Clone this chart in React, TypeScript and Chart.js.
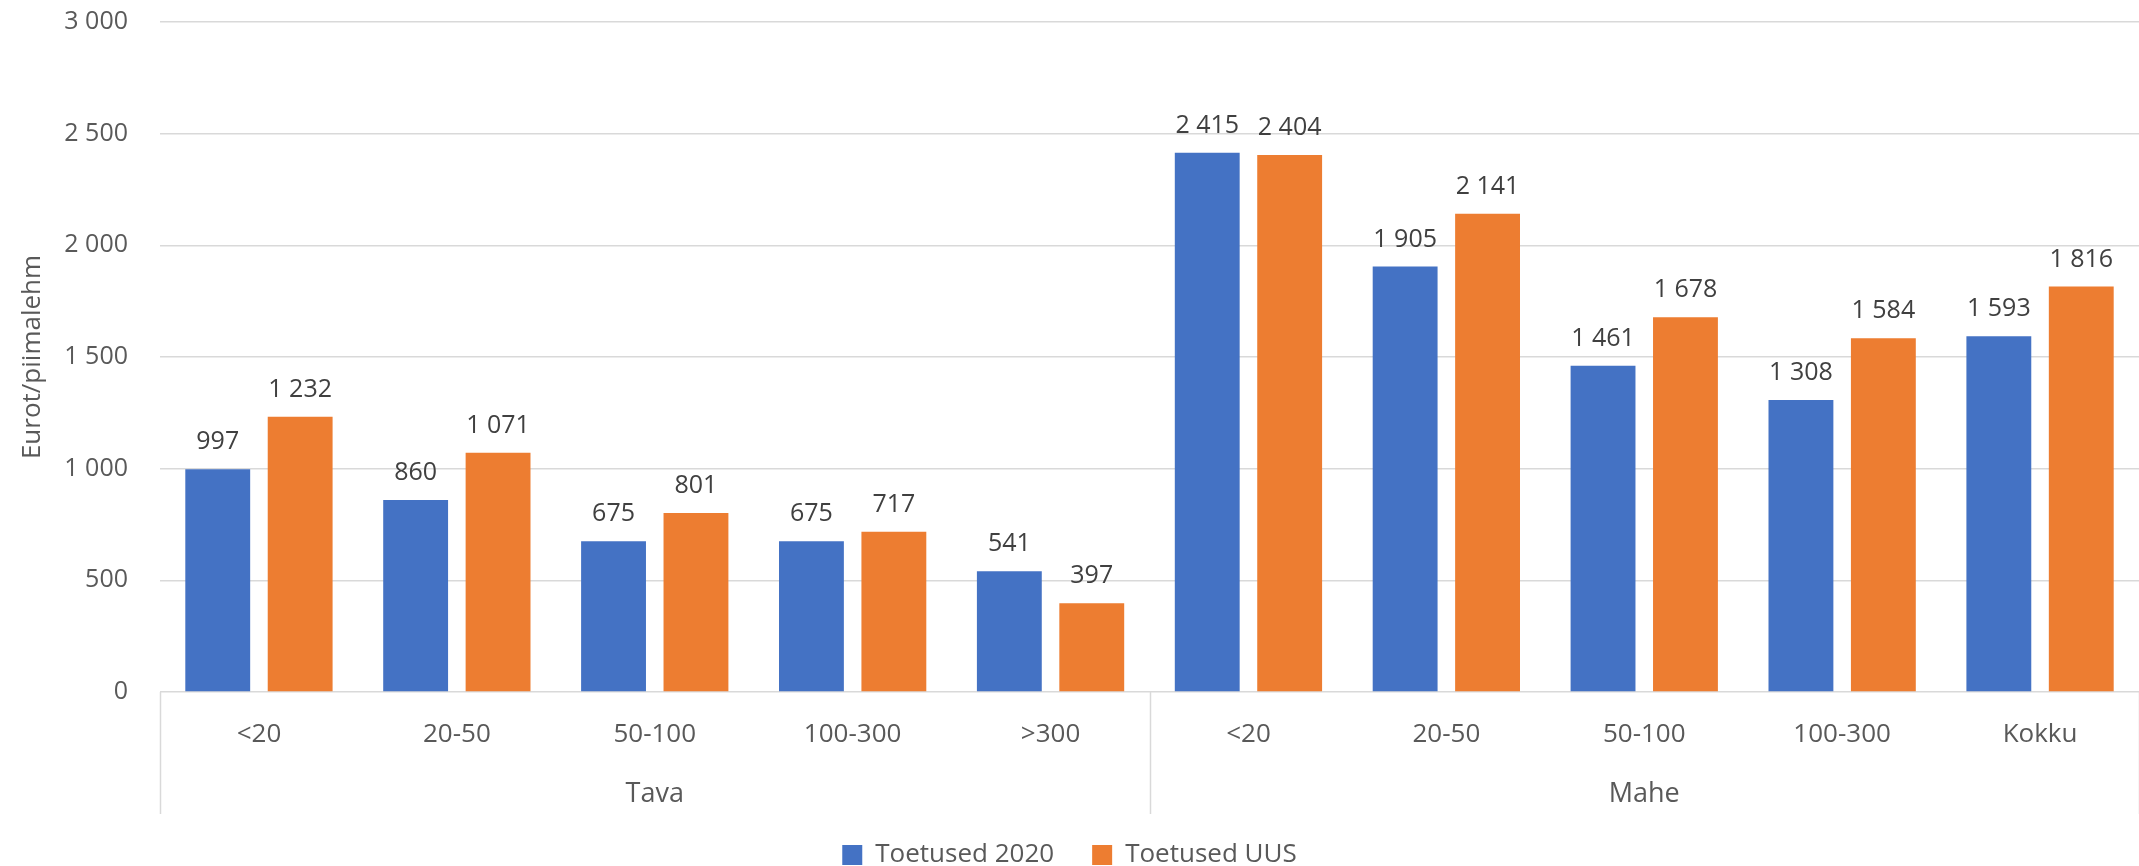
import React, { useEffect, useRef } from "react";
import { Chart, registerables } from "chart.js";

Chart.register(...registerables);

const categories = ["<20", "20-50", "50-100", "100-300", ">300", "<20", "20-50", "50-100", "100-300", "Kokku"];
const groups = [
  { label: "Tava", from: 0, to: 4 },
  { label: "Mahe", from: 5, to: 9 },
];
const toetused2020 = [997, 860, 675, 675, 541, 2415, 1905, 1461, 1308, 1593];
const toetusedUus = [1232, 1071, 801, 717, 397, 2404, 2141, 1678, 1584, 1816];
const seriesNames = ["Toetused 2020", "Toetused UUS"];
const yTitle = "Eurot/piimalehm";

const FONT = "'Open Sans', Lato, sans-serif";
const TEXT = "#595959";
const GRID = "#D9D9D9";

const fmt = (v: number) => String(v).replace(/\B(?=(\d{3})+(?!\d))/g, " ");

const labelsPlugin = {
  id: "customLabels",
  afterDatasetsDraw(chart: any) {
    const ctx = chart.ctx;
    ctx.save();
    ctx.font = `25px ${FONT}`;
    ctx.fillStyle = "#404040";
    ctx.textAlign = "center";
    ctx.textBaseline = "middle";
    chart.data.datasets.forEach((ds: any, di: number) => {
      const meta = chart.getDatasetMeta(di);
      meta.data.forEach((bar: any, i: number) => {
        ctx.fillText(fmt(ds.data[i]), bar.x, bar.y - 27);
      });
    });
    ctx.restore();
  },
  afterDraw(chart: any) {
    const ctx = chart.ctx;
    const xs = chart.scales.x;
    const area = chart.chartArea;
    const n = categories.length;
    const step = (area.right - area.left) / n;
    ctx.save();
    ctx.fillStyle = TEXT;
    ctx.textAlign = "center";
    ctx.textBaseline = "middle";
    ctx.font = `26px ${FONT}`;
    categories.forEach((c, i) => {
      ctx.fillText(c, xs.getPixelForValue(i), area.bottom + 43);
    });
    ctx.font = `27px ${FONT}`;
    groups.forEach((g) => {
      const x = (area.left + step * g.from + area.left + step * (g.to + 1)) / 2;
      ctx.fillText(g.label, x, area.bottom + 102);
    });
    ctx.strokeStyle = GRID;
    ctx.lineWidth = 1.5;
    const bounds = [0, 5, 10];
    bounds.forEach((b) => {
      const x = Math.round(area.left + step * b) + 0.5;
      ctx.beginPath();
      ctx.moveTo(x, area.bottom);
      ctx.lineTo(x, area.bottom + 122);
      ctx.stroke();
    });
    ctx.restore();
  },
};

export default function App() {
  const ref = useRef<HTMLCanvasElement>(null);
  useEffect(() => {
    document.body.style.margin = "0";
    const chart = new Chart(ref.current!, {
      type: "bar",
      data: {
        labels: categories,
        datasets: [
          {
            label: seriesNames[0],
            data: toetused2020,
            backgroundColor: "#4472C4",
            categoryPercentage: 0.833,
            barPercentage: 0.787,
          },
          {
            label: seriesNames[1],
            data: toetusedUus,
            backgroundColor: "#ED7D31",
            categoryPercentage: 0.833,
            barPercentage: 0.787,
          },
        ],
      },
      options: {
        animation: false,
        responsive: false,
        layout: { padding: { top: 22, right: 0, bottom: -12, left: 0 } },
        plugins: {
          legend: {
            position: "bottom",
            labels: {
              color: TEXT,
              font: { family: FONT, size: 26 },
              boxWidth: 20,
              boxHeight: 20,
              padding: 38,
            },
          },
          tooltip: { enabled: false },
        },
        scales: {
          x: {
            display: true,
            grid: { display: false },
            border: { display: false },
            ticks: { display: false },
            afterFit: (s: any) => {
              s.height = 112;
            },
          },
          y: {
            min: 0,
            max: 3000,
            ticks: {
              stepSize: 500,
              color: TEXT,
              font: { family: FONT, size: 25 },
              padding: 32,
              callback: (v: any) => fmt(Number(v)),
            },
            grid: { color: GRID, lineWidth: 1.5, drawTicks: false },
            border: { display: false },
            title: {
              display: true,
              text: yTitle,
              color: TEXT,
              font: { family: FONT, size: 26 },
              padding: { top: 17, bottom: 0 },
            },
            afterFit: (s: any) => {
              s.width = 160;
              s.paddingTop = 0;
              s.paddingBottom = 0;
            },
          },
        },
      },
      plugins: [labelsPlugin],
    });
    return () => chart.destroy();
  }, []);
  return (
    <div style={{ width: 2139, height: 866 }}>
      <canvas ref={ref} width={2139} height={866} style={{ display: "block" }} />
    </div>
  );
}
